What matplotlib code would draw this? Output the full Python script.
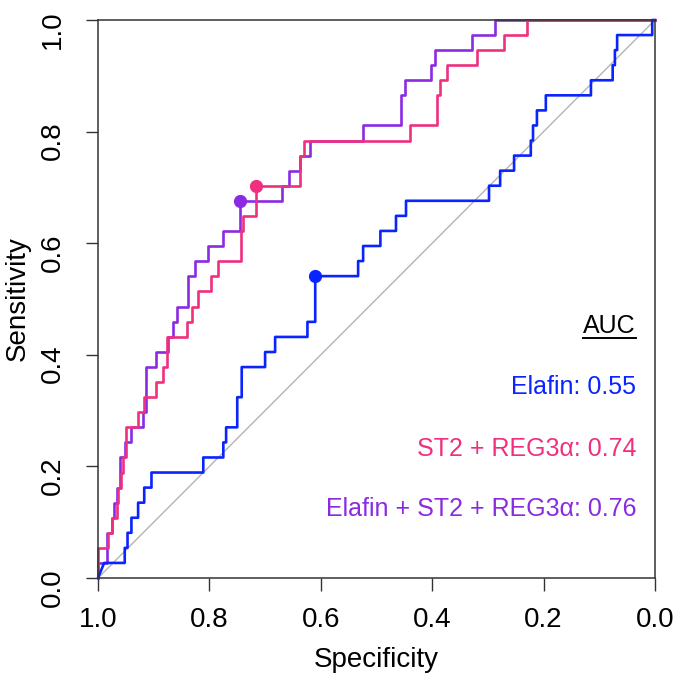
import matplotlib
matplotlib.use("Agg")
import matplotlib.pyplot as plt

plt.rcParams['font.family'] = ['Liberation Sans', 'DejaVu Sans']

# ROC points (specificity, sensitivity), 37 cases
elafin_spec = [1.000, 0.989, 0.952, 0.947, 0.940, 0.928, 0.917, 0.904, 0.811, 0.775, 0.770,
               0.750, 0.742, 0.700, 0.682, 0.624, 0.610, 0.533, 0.524, 0.493, 0.465, 0.447,
               0.298, 0.278, 0.253, 0.223, 0.219, 0.212, 0.196, 0.115, 0.076, 0.072, 0.068,
               0.005, 0.000]
elafin_sens = [0.000, 0.027, 0.054, 0.081, 0.108, 0.135, 0.162, 0.189, 0.216, 0.243, 0.270,
               0.324, 0.378, 0.405, 0.432, 0.459, 0.541, 0.568, 0.595, 0.622, 0.649, 0.676,
               0.703, 0.730, 0.757, 0.784, 0.811, 0.838, 0.865, 0.892, 0.919, 0.946, 0.973,
               1.000, 1.000]

st2_spec = [1.000, 1.000, 0.982, 0.975, 0.966, 0.964, 0.959, 0.955, 0.949, 0.928, 0.917,
            0.895, 0.883, 0.877, 0.841, 0.832, 0.820, 0.797, 0.784, 0.744, 0.739, 0.717,
            0.637, 0.630, 0.439, 0.391, 0.386, 0.373, 0.319, 0.271, 0.230, 0.000]
st2_sens = [0.000, 0.054, 0.081, 0.108, 0.135, 0.162, 0.189, 0.216, 0.270, 0.297, 0.324,
            0.351, 0.378, 0.432, 0.459, 0.486, 0.514, 0.541, 0.568, 0.622, 0.649, 0.703,
            0.757, 0.784, 0.811, 0.865, 0.892, 0.919, 0.946, 0.973, 1.000, 1.000]

combo_spec = [1.000, 1.000, 0.984, 0.975, 0.972, 0.966, 0.961, 0.952, 0.940, 0.920, 0.913,
              0.895, 0.874, 0.865, 0.859, 0.838, 0.826, 0.802, 0.775, 0.745, 0.670, 0.657,
              0.637, 0.619, 0.524, 0.456, 0.449, 0.403, 0.395, 0.329, 0.287, 0.000]
combo_sens = [0.000, 0.027, 0.081, 0.108, 0.135, 0.162, 0.216, 0.243, 0.270, 0.297, 0.378,
              0.405, 0.432, 0.459, 0.486, 0.541, 0.568, 0.595, 0.622, 0.676, 0.703, 0.730,
              0.757, 0.784, 0.811, 0.865, 0.892, 0.919, 0.946, 0.973, 1.000, 1.000]

# best thresholds (dots)
best_spec = [0.610, 0.717, 0.745]
best_sens = [0.541, 0.703, 0.676]

labels = ['Elafin: 0.55', 'ST2 + REG3\u03b1: 0.74', 'Elafin + ST2 + REG3\u03b1: 0.76']
colors = ['#0a24ff', '#f0307e', '#8a2be2']


def stairs(spec, sens):
    # horizontal first, then up, like the pROC plot
    xs, ys = [spec[0]], [sens[0]]
    for i in range(1, len(spec)):
        xs += [spec[i], spec[i]]
        ys += [sens[i - 1], sens[i]]
    return xs, ys


fig = plt.figure(figsize=(6.75, 6.78), dpi=100)
ax = fig.add_axes([98 / 675, 1 - 578 / 678, 557 / 675, 558 / 678])

ax.plot([1, 0], [0, 1], color='#b4b4b4', lw=1.0)

x, y = stairs(combo_spec, combo_sens)
ax.plot(x, y, color=colors[2], lw=1.9, clip_on=False)
x, y = stairs(st2_spec, st2_sens)
ax.plot(x, y, color=colors[1], lw=1.9, clip_on=False)
# first elafin segment is a diagonal (tie)
x, y = stairs(elafin_spec[1:], elafin_sens[1:])
ax.plot([elafin_spec[0]] + x, [elafin_sens[0]] + y, color=colors[0], lw=1.9, clip_on=False)

for i in range(3):
    ax.plot(best_spec[i], best_sens[i], 'o', color=colors[i], ms=8.5, clip_on=False)

ax.set_xlim(1, 0)
ax.set_ylim(0, 1)
ticks = [1.0, 0.8, 0.6, 0.4, 0.2, 0.0]
ax.set_xticks(ticks)
ax.set_yticks(ticks)
ax.set_xticklabels(['%.1f' % t for t in ticks])
ax.set_yticklabels(['%.1f' % t for t in ticks])
ax.tick_params(axis='both', direction='out', length=9, width=1, labelsize=20, color='#333333')
ax.tick_params(axis='x', pad=12)
ax.tick_params(axis='y', pad=14, labelrotation=90)
for s in ax.spines.values():
    s.set_linewidth(1.1)
    s.set_color('#333333')

ax.set_xlabel('Specificity', fontsize=20, labelpad=10)
ax.set_ylabel('Sensitivity', fontsize=20, labelpad=7)

auc = ax.text(0.966, 0.439, 'AUC', transform=ax.transAxes, ha='right', va='baseline',
              fontsize=18, color='black')
ys_txt = [0.330, 0.219, 0.1115]
for i in range(3):
    ax.text(0.966, ys_txt[i], labels[i], transform=ax.transAxes, ha='right', va='baseline',
            fontsize=18, color=colors[i])

# underline under AUC
fig.canvas.draw()
bb = auc.get_window_extent().transformed(ax.transAxes.inverted())
ax.plot([bb.x0, bb.x1], [0.430, 0.430], color='black', lw=1.4, transform=ax.transAxes,
        clip_on=False)

fig.savefig('out.png', dpi=100)
